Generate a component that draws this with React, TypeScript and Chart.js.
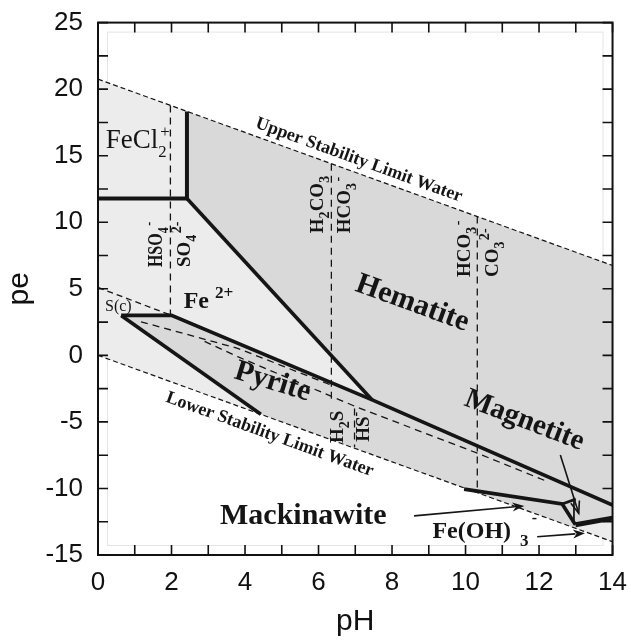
import React, { useEffect, useRef } from 'react';
import { Chart, registerables } from 'chart.js';

Chart.register(...registerables);

type Pt = [number, number];

// ---- axis ticks ----
const phTicks = [0, 2, 4, 6, 8, 10, 12, 14];
const peTicks = [-15, -10, -5, 0, 5, 10, 15, 20, 25];

// ---- water stability limits ----
const upperWater: Pt[] = [[0, 20.75], [14, 6.75]];
const lowerWater: Pt[] = [[0, 0], [14, -14]];

// ---- filled regions ----
const waterBand: Pt[] = [[0, 20.75], [14, 6.75], [14, -14], [0, 0]];
const solidRegion: Pt[] = [
  [2.42, 11.78], [2.42, 18.33], [14, 6.75], [14, -12.23], [12.99, -12.73],
  [12.99, -12.99], [4.43, -4.43], [0.63, 3.0], [2.0, 3.0], [7.46, -3.35],
];

// ---- solid phase boundaries (thick) ----
const feclBoundary: Pt[] = [[0, 11.78], [2.42, 11.78], [2.42, 18.33]];
const fe2HematiteBoundary: Pt[] = [[2.42, 11.78], [7.46, -3.35]];
const pyriteTop: Pt[] = [[0.63, 3.0], [2.0, 3.0], [7.46, -3.35], [14, -11.25]];
const pyriteLeft: Pt[] = [[0.63, 3.0], [4.43, -4.43]];
const mackinawiteTop: Pt[] = [[9.96, -10.05], [12.63, -11.17], [12.99, -12.73]];
const feoh3Boundary: Pt[] = [[12.99, -12.73], [14, -12.23]];
const magnetiteSpur: Pt[] = [[12.63, -11.17], [13.0, -10.8]];
const magnetiteTick: Pt[] = [[12.95, -10.7], [12.95, -12.6]];

// ---- aqueous species boundaries (dashed) ----
const sulfurBoundary: Pt[] = [[0, 5.1], [2.0, 3.0]];
const hso4Boundary: Pt[] = [[1.97, 18.78], [1.97, 3.0]];
const h2co3Boundary: Pt[] = [[6.35, 14.4], [6.35, -3.3]];
const hco3Boundary: Pt[] = [[10.32, 10.43], [10.32, -10.0]];
const h2sBoundary: Pt[] = [[6.98, -4.0], [6.98, -6.9]];
const pyriteDashA: Pt[] = [[1.17, 2.52], [3.8, 0.53], [6.4, -2.3]];
const pyriteDashB: Pt[] = [[2.9, 1.05], [3.8, -0.1], [7.01, -3.85], [10.32, -7.35], [12.2, -9.45]];

const SERIF = '"Liberation Serif", "Times New Roman", serif';
const SANS = '"Liberation Sans", Arial, sans-serif';
const INK = '#151515';

type Part = { t: string; k?: 'sub' | 'sup'; f?: number; st?: boolean };
type Label = {
  parts: Part[]; at: Pt; size: number; bold?: boolean; rot?: number;
  align?: 'left' | 'center'; base?: CanvasTextBaseline; sx?: number; along?: Pt[]; off?: number;
};

const V = 0.74; // sub/sup size factor for the vertical species labels

const labels: Label[] = [
  { parts: [{ t: 'FeCl' }, { t: '2', k: 'sub' }, { t: '+', k: 'sup', st: true }], at: [0.21, 15.56], size: 27 },
  { parts: [{ t: 'Fe ' }, { t: '2+', k: 'sup', f: 0.72 }], at: [2.33, 3.55], size: 24, bold: true },
  { parts: [{ t: 'Hematite' }], at: [8.55, 3.9], size: 30, bold: true, rot: 20, align: 'center', base: 'middle' },
  { parts: [{ t: 'Pyrite' }], at: [4.75, -2.0], size: 30, bold: true, rot: 17, align: 'center', base: 'middle' },
  { parts: [{ t: 'Magnetite' }], at: [11.6, -4.9], size: 29, bold: true, rot: 21, align: 'center', base: 'middle' },
  { parts: [{ t: 'Mackinawite' }], at: [3.32, -12.66], size: 30, bold: true },
  { parts: [{ t: 'Fe(OH)' }], at: [9.1, -13.71], size: 24, bold: true },
  { parts: [{ t: '-' }], at: [11.8, -12.6], size: 16, bold: true },
  { parts: [{ t: '3' }], at: [11.48, -14.3], size: 17, bold: true },
  { parts: [{ t: 'S(c)' }], at: [0.19, 3.33], size: 16 },
  { parts: [{ t: 'Upper Stability Limit Water' }], at: [6.98, 13.77], size: 18, bold: true, along: upperWater, off: -8, align: 'center', base: 'alphabetic' },
  { parts: [{ t: 'Lower Stability Limit Water' }], at: [4.82, -4.82], size: 18, bold: true, along: lowerWater, off: 7, align: 'center', base: 'top' },
  { parts: [{ t: 'HSO' }, { t: '4', k: 'sub', f: V }, { t: ' ', f: 0.4 }, { t: '-', k: 'sup', f: V }], at: [1.74, 6.63], size: 20, bold: true, rot: -90, sx: 0.8 },
  { parts: [{ t: 'SO' }, { t: '4', k: 'sub', f: V }, { t: ' ', f: 0.3 }, { t: '2-', k: 'sup', f: V }], at: [2.49, 6.63], size: 19, bold: true, rot: -90 },
  { parts: [{ t: 'H' }, { t: '2', k: 'sub', f: V }, { t: 'CO' }, { t: '3', k: 'sub', f: V }], at: [6.13, 9.18], size: 19, bold: true, rot: -90 },
  { parts: [{ t: 'HCO' }, { t: '3', k: 'sub', f: V }, { t: ' ', f: 0.3 }, { t: '-', k: 'sup', f: V }], at: [6.85, 9.18], size: 19, bold: true, rot: -90 },
  { parts: [{ t: 'HCO' }, { t: '3', k: 'sub', f: V }, { t: ' ', f: 0.3 }, { t: '-', k: 'sup', f: V }], at: [10.12, 5.88], size: 19, bold: true, rot: -90 },
  { parts: [{ t: 'CO' }, { t: '3', k: 'sub', f: V }, { t: ' ', f: 0.3 }, { t: '2-', k: 'sup', f: V }], at: [10.87, 5.88], size: 19, bold: true, rot: -90 },
  { parts: [{ t: 'H' }, { t: '2', k: 'sub', f: V }, { t: 'S' }], at: [6.67, -6.58], size: 19, bold: true, rot: -90 },
  { parts: [{ t: 'HS' }, { t: '-', k: 'sup', f: V }], at: [7.36, -6.5], size: 19, bold: true, rot: -90 },
];

const arrows: { from: Pt; to: Pt; head: 'open' | 'solid' }[] = [
  { from: [12.58, -7.48], to: [13.08, -11.87], head: 'open' },
  { from: [8.6, -12.06], to: [11.6, -11.31], head: 'solid' },
  { from: [11.95, -13.63], to: [13.25, -13.36], head: 'solid' },
];

const toXY = (pts: Pt[]) => pts.map(([x, y]) => ({ x, y }));

function region(pts: Pt[], color: string, order: number) {
  return { data: toXY(pts), fill: 'shape', backgroundColor: color, borderWidth: 0, pointRadius: 0, order };
}
function thick(pts: Pt[], width = 3.6) {
  return { data: toXY(pts), fill: false, borderColor: INK, borderWidth: width, pointRadius: 0, order: 1, borderJoinStyle: 'miter', borderCapStyle: 'butt' };
}
function dashed(pts: Pt[], dash: number[] = [7, 5], width = 1.3) {
  return { data: toXY(pts), fill: false, borderColor: INK, borderWidth: width, borderDash: dash, pointRadius: 0, order: 5 };
}

function drawParts(ctx: CanvasRenderingContext2D, parts: Part[], size: number, bold: boolean, align: string) {
  const fontFor = (s: number) => `${bold ? 'bold ' : ''}${s}px ${SERIF}`;
  let x = 0;
  let prevStart = 0;
  const items: { t: string; x: number; dy: number; font: string }[] = [];
  for (const p of parts) {
    const s = p.k ? size * (p.f ?? 0.62) : size * (p.f ?? 1);
    const font = fontFor(s);
    ctx.font = font;
    const w = ctx.measureText(p.t).width;
    const dy = p.k === 'sub' ? size * 0.32 : p.k === 'sup' ? -size * 0.43 : 0;
    const start = p.st ? prevStart + 2 : x;
    items.push({ t: p.t, x: start, dy, font });
    prevStart = start;
    x = Math.max(x, start + w);
  }
  const offset = align === 'center' ? -x / 2 : 0;
  for (const it of items) {
    ctx.font = it.font;
    ctx.fillText(it.t, it.x + offset, it.dy);
  }
}

const decor = {
  id: 'decor',
  beforeDatasetsDraw(chart: any) {
    const { ctx, chartArea: a } = chart;
    ctx.save();
    ctx.strokeStyle = '#e4e4e4';
    ctx.lineWidth = 1;
    ctx.strokeRect(a.left + 9.5, a.top + 9.5, a.right - a.left - 19, a.bottom - a.top - 19);
    ctx.restore();
  },
  afterDatasetsDraw(chart: any) {
    const { ctx, chartArea: a, scales } = chart;
    const xs = scales.x, ys = scales.y;
    const px = (p: Pt) => [xs.getPixelForValue(p[0]), ys.getPixelForValue(p[1])];
    ctx.save();
    // arrows
    ctx.strokeStyle = INK;
    ctx.fillStyle = INK;
    for (const ar of arrows) {
      const [x1, y1] = px(ar.from);
      const [x2, y2] = px(ar.to);
      const ang = Math.atan2(y2 - y1, x2 - x1);
      const hl = 12, hw = 4.5;
      ctx.lineWidth = 1.6;
      ctx.beginPath();
      ctx.moveTo(x1, y1);
      const ex = ar.head === 'solid' ? x2 - Math.cos(ang) * hl * 0.8 : x2;
      const ey = ar.head === 'solid' ? y2 - Math.sin(ang) * hl * 0.8 : y2;
      ctx.lineTo(ex, ey);
      ctx.stroke();
      const bx = x2 - Math.cos(ang) * hl, by = y2 - Math.sin(ang) * hl;
      const nx = -Math.sin(ang) * hw, ny = Math.cos(ang) * hw;
      ctx.beginPath();
      ctx.moveTo(bx + nx, by + ny);
      ctx.lineTo(x2, y2);
      ctx.lineTo(bx - nx, by - ny);
      if (ar.head === 'solid') {
        ctx.lineTo(x2 - Math.cos(ang) * hl * 0.7, y2 - Math.sin(ang) * hl * 0.7);
        ctx.closePath();
        ctx.fill();
      } else {
        ctx.stroke();
      }
    }
    // labels
    ctx.fillStyle = INK;
    for (const lb of labels) {
      const [x, y] = px(lb.at);
      ctx.save();
      ctx.translate(x, y);
      let rot = ((lb.rot ?? 0) * Math.PI) / 180;
      if (lb.along) {
        const [ax, ay] = px(lb.along[0]);
        const [bx, by] = px(lb.along[1]);
        rot = Math.atan2(by - ay, bx - ax);
      }
      ctx.rotate(rot);
      if (lb.off) ctx.translate(0, lb.off);
      if (lb.sx) ctx.scale(lb.sx, 1);
      ctx.textAlign = 'left';
      ctx.textBaseline = lb.base ?? 'alphabetic';
      drawParts(ctx, lb.parts, lb.size, !!lb.bold, lb.align ?? 'left');
      ctx.restore();
    }
    // frame
    ctx.strokeStyle = '#111';
    ctx.lineWidth = 2;
    ctx.strokeRect(a.left, a.top, a.right - a.left, a.bottom - a.top);
    // inward ticks
    ctx.lineWidth = 1.6;
    ctx.beginPath();
    for (const t of xs.ticks) {
      const p = xs.getPixelForValue(t.value);
      ctx.moveTo(p, a.bottom); ctx.lineTo(p, a.bottom - 10);
      ctx.moveTo(p, a.top); ctx.lineTo(p, a.top + 10);
    }
    for (const t of ys.ticks) {
      const p = ys.getPixelForValue(t.value);
      ctx.moveTo(a.left, p); ctx.lineTo(a.left + 10, p);
      ctx.moveTo(a.right, p); ctx.lineTo(a.right - 10, p);
    }
    ctx.stroke();
    ctx.restore();
  },
};

export default function App() {
  const ref = useRef<HTMLCanvasElement>(null);
  useEffect(() => {
    const canvas = ref.current;
    if (!canvas) return;
    const chart = new Chart(canvas, {
      type: 'line',
      data: {
        datasets: [
          thick(feclBoundary, 4),
          thick(fe2HematiteBoundary),
          thick(pyriteTop),
          thick(pyriteLeft),
          thick(mackinawiteTop),
          thick(feoh3Boundary, 5),
          thick(magnetiteSpur, 2.8),
          thick(magnetiteTick, 1),
          dashed(upperWater, [5, 3], 1.2),
          dashed(lowerWater, [5, 3], 1.2),
          dashed(sulfurBoundary, [6, 4]),
          dashed(hso4Boundary),
          dashed(h2co3Boundary),
          dashed(hco3Boundary),
          dashed(h2sBoundary),
          dashed(pyriteDashA),
          dashed(pyriteDashB),
          region(solidRegion, '#d9d9d9', 9),
          region(waterBand, '#ececec', 10),
        ] as any,
      },
      options: {
        responsive: false,
        animation: false,
        layout: { padding: { left: 0, right: 10, top: 22, bottom: 0 } },
        plugins: { legend: { display: false }, tooltip: { enabled: false } },
        elements: { point: { radius: 0 }, line: { tension: 0 } },
        scales: {
          x: {
            type: 'linear', min: 0, max: 14,
            grid: { display: false }, border: { display: false },
            ticks: {
              stepSize: 1, autoSkip: false, maxRotation: 0, padding: 4, color: '#111',
              font: { family: SANS, size: 26 },
              callback: (v: any) => (phTicks.includes(Number(v)) ? String(v) : ''),
            },
            title: { display: true, text: 'pH', color: '#111', font: { family: SANS, size: 30 }, padding: { top: 0, bottom: 1 } },
            afterFit: (s: any) => { s.height = 86; },
          },
          y: {
            type: 'linear', min: -15, max: 25,
            grid: { display: false }, border: { display: false },
            ticks: {
              stepSize: 2.5, autoSkip: false, padding: 7, color: '#111',
              font: { family: SANS, size: 26 },
              callback: (v: any) => (peTicks.includes(Number(v)) ? String(v) : ''),
            },
            title: { display: true, text: 'pe', color: '#111', font: { family: SANS, size: 30 }, padding: { top: 2, bottom: 0 } },
            afterFit: (s: any) => { s.width = 98; },
          },
        },
      } as any,
      plugins: [decor],
    });
    return () => chart.destroy();
  }, []);
  return (
    <div style={{ position: 'absolute', left: 0, top: 0, width: 631, height: 641, background: '#fff' }}>
      <canvas ref={ref} width={631} height={641} style={{ display: 'block', width: 631, height: 641 }} />
    </div>
  );
}
